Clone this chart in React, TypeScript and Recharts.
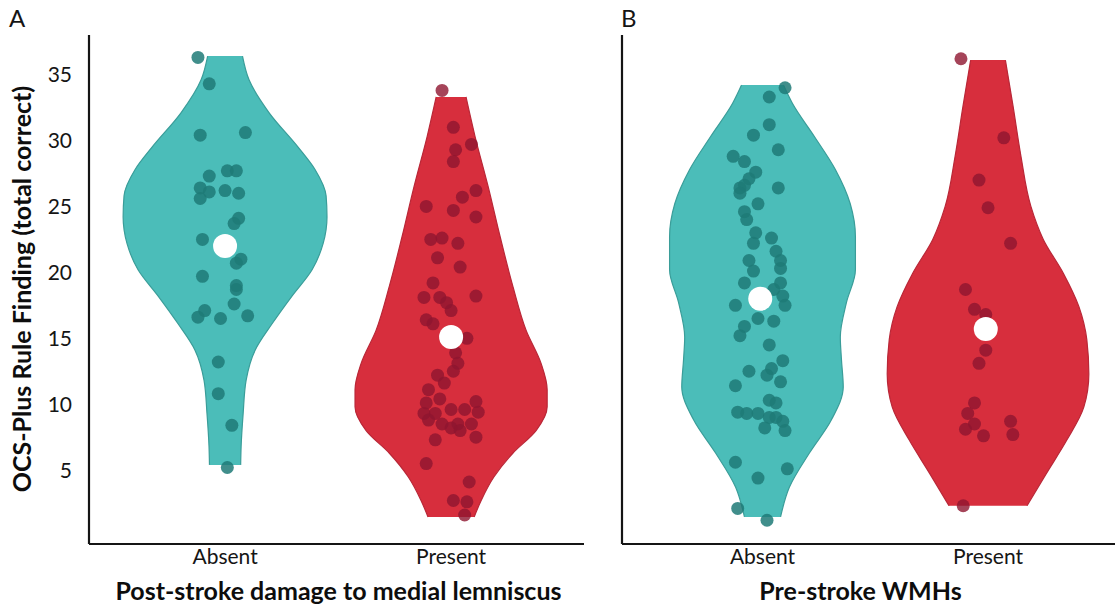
import { ComposedChart, Area, Scatter, XAxis, YAxis, Label } from "recharts";

const groups = ["Absent", "Present"];
const scoreTicks = [5, 10, 15, 20, 25, 30, 35];

// violin outlines: [score, half width in group units]
const lemAbsentOutline: [number, number][] = [
  [5.4, 0.069], [6.8, 0.071], [9.3, 0.08], [11.8, 0.093], [14.1, 0.133],
  [16.1, 0.208], [18.2, 0.296], [20.2, 0.385], [22.2, 0.434], [24.2, 0.451],
  [25.8, 0.447], [27.8, 0.398], [29.5, 0.323], [32.1, 0.195], [34.6, 0.106],
  [36.4, 0.077],
];
const lemPresentOutline: [number, number][] = [
  [1.45, 0.102], [2.7, 0.133], [4.5, 0.19], [6.3, 0.274], [8.0, 0.376],
  [9.8, 0.425], [11.1, 0.425], [13.1, 0.398], [15.6, 0.332], [18.9, 0.274],
  [22.7, 0.217], [26.5, 0.164], [30.3, 0.106], [33.3, 0.066],
];
const wmhAbsentOutline: [number, number][] = [
  [1.45, 0.08], [3.7, 0.119], [6.3, 0.208], [8.8, 0.305], [11.3, 0.358],
  [13.4, 0.35], [15.1, 0.345], [17.7, 0.372], [20.2, 0.412], [22.7, 0.412],
  [25.2, 0.389], [27.8, 0.323], [30.3, 0.23], [32.8, 0.133], [34.2, 0.093],
];
const wmhPresentOutline: [number, number][] = [
  [2.3, 0.173], [4.7, 0.257], [7.3, 0.35], [9.8, 0.425], [12.3, 0.447],
  [14.9, 0.438], [17.4, 0.403], [19.9, 0.335], [22.5, 0.245], [25.0, 0.19],
  [28.8, 0.146], [32.6, 0.111], [36.1, 0.077],
];

// individual scores: [jitter, score]
const lemAbsentScores: [number, number][] = [
  [-0.12, 36.3], [-0.07, 34.3], [-0.11, 30.4], [0.09, 30.6], [-0.07, 27.3],
  [0.01, 27.7], [0.05, 27.7], [-0.11, 26.4], [-0.07, 26.1], [0.0, 26.2],
  [0.06, 26.0], [-0.11, 25.6], [0.06, 24.1], [0.04, 23.7], [-0.1, 22.5],
  [0.07, 21.0], [0.05, 20.7], [-0.1, 19.7], [0.05, 19.0], [0.05, 18.7],
  [0.04, 17.6], [-0.09, 17.1], [-0.12, 16.6], [-0.02, 16.5], [0.1, 16.7],
  [-0.03, 13.2], [-0.03, 10.8], [0.03, 8.4], [0.01, 5.2],
];
const lemPresentScores: [number, number][] = [
  [-0.04, 33.8], [0.01, 31.0], [0.02, 29.3], [0.09, 29.7], [0.01, 28.4],
  [0.11, 26.2], [0.05, 25.7], [-0.11, 25.0], [0.01, 24.7], [0.11, 24.2],
  [-0.09, 22.5], [-0.04, 22.6], [0.03, 22.2], [-0.06, 21.1], [0.04, 20.4],
  [-0.08, 19.2], [-0.12, 18.1], [-0.05, 18.1], [0.11, 18.2], [-0.02, 17.7],
  [0.0, 17.1], [-0.11, 16.4], [-0.08, 16.1], [0.07, 15.0], [0.02, 13.9],
  [0.03, 13.1], [0.01, 12.5], [-0.06, 12.2], [-0.03, 11.6], [-0.1, 11.1],
  [-0.11, 10.1], [-0.05, 10.4], [0.11, 10.2], [-0.12, 9.3], [-0.07, 9.3],
  [0.0, 9.6], [0.06, 9.6], [0.12, 9.4], [-0.1, 8.8], [-0.04, 8.5],
  [0.03, 8.5], [0.09, 8.5], [0.0, 8.2], [0.04, 8.0], [0.11, 7.5],
  [-0.07, 7.3], [-0.11, 5.5], [0.08, 4.1], [0.01, 2.7], [0.07, 2.6],
  [0.06, 1.6],
];
const wmhAbsentScores: [number, number][] = [
  [0.1, 34.0], [0.03, 33.3], [0.03, 31.2], [-0.04, 30.4], [0.07, 29.3],
  [-0.13, 28.8], [-0.08, 28.4], [-0.03, 27.6], [-0.06, 27.1], [-0.1, 26.4],
  [-0.08, 26.6], [0.07, 26.4], [-0.1, 26.0], [-0.02, 25.2], [-0.08, 24.6],
  [-0.07, 24.0], [-0.03, 23.0], [0.04, 22.6], [-0.04, 22.2], [0.06, 21.6],
  [-0.06, 20.9], [0.08, 20.9], [-0.04, 20.1], [0.08, 20.3], [-0.08, 19.2],
  [0.08, 19.2], [0.05, 18.7], [0.09, 18.2], [-0.12, 17.5], [0.1, 17.5],
  [-0.02, 16.5], [0.05, 16.3], [-0.08, 15.9], [-0.1, 15.2], [0.03, 14.5],
  [0.09, 13.3], [-0.06, 12.5], [0.04, 12.7], [0.02, 12.2], [0.08, 11.7],
  [-0.12, 11.4], [0.03, 10.3], [0.06, 10.1], [-0.11, 9.4], [-0.07, 9.3],
  [-0.02, 9.3], [0.03, 9.0], [0.06, 9.0], [0.09, 8.7], [0.01, 8.2],
  [0.1, 8.0], [-0.12, 5.6], [0.11, 5.1], [-0.02, 4.4], [-0.11, 2.1],
  [0.02, 1.2],
];
const wmhPresentScores: [number, number][] = [
  [-0.12, 36.2], [0.07, 30.2], [-0.04, 27.0], [0.0, 24.9], [0.1, 22.2],
  [-0.1, 18.7], [-0.06, 17.2], [-0.01, 16.8], [-0.01, 14.1], [-0.04, 13.1],
  [-0.06, 10.1], [-0.09, 9.3], [-0.06, 8.5], [-0.1, 8.1], [-0.02, 7.6],
  [0.1, 8.7], [0.11, 7.7], [-0.11, 2.3],
];

// group means: [jitter, score] for Absent, Present
const lemMeans: [number, number][] = [[0.0, 22.0], [0.0, 15.1]];
const wmhMeans: [number, number][] = [[-0.01, 18.0], [-0.01, 15.7]];

const TEAL = "#4bbdb9";
const TEAL_EDGE = "#3a9d99";
const RED = "#d72e3d";
const RED_EDGE = "#b92737";
const INK = "#151515";
const FONT = "Lato, 'Open Sans', sans-serif";

const gap = [NaN, NaN];

function violinRows(absent: [number, number][], present: [number, number][]) {
  return [
    ...absent.map(([y, w]) => ({ y, absent: [1 - w, 1 + w], present: gap })),
    ...present.map(([y, w]) => ({ y, absent: gap, present: [2 - w, 2 + w] })),
  ];
}

function toPoints(scores: [number, number][], group: number) {
  return scores.map(([j, s]) => ({ x: group + j, y: s }));
}

const dot = (fill: string, r: number) => (p: any) =>
  <circle cx={p.cx} cy={p.cy} r={r} fill={fill} />;

function Panel({
  absent,
  present,
  absentScores,
  presentScores,
  means,
  xDomain,
  width,
  yWidth,
  right,
  title,
  titleShift,
  showScores,
}: {
  absent: [number, number][];
  present: [number, number][];
  absentScores: [number, number][];
  presentScores: [number, number][];
  means: [number, number][];
  xDomain: [number, number];
  width: number;
  yWidth: number;
  right: number;
  title: string;
  titleShift: number;
  showScores: boolean;
}) {
  const meanPts = means.map(([j, s], i) => ({ x: i + 1 + j, y: s }));
  return (
    <ComposedChart
      layout="vertical"
      width={width}
      height={611}
      data={violinRows(absent, present)}
      margin={{ top: 35, right, bottom: 0, left: 0 }}
    >
      <XAxis
        type="number"
        dataKey="x"
        domain={xDomain}
        allowDataOverflow
        ticks={[1, 2]}
        tickFormatter={(v) => groups[v - 1]}
        axisLine={{ stroke: INK, strokeWidth: 2.2 }}
        tickLine={false}
        tickSize={5}
        tickMargin={0}
        height={67}
        tick={{ fill: INK, fontSize: 21, fontFamily: FONT }}
      >
        <Label
          value={title}
          position="insideBottom"
          offset={11}
          dx={titleShift}
          style={{ fill: "#0d0d0d", fontSize: 25, fontWeight: 700, fontFamily: FONT }}
        />
      </XAxis>
      <YAxis
        type="number"
        dataKey="y"
        domain={[-0.6, 38]}
        allowDataOverflow
        reversed
        ticks={scoreTicks}
        width={yWidth}
        axisLine={{ stroke: INK, strokeWidth: 2.2 }}
        tickLine={false}
        tickMargin={11}
        tick={showScores ? { fill: INK, fontSize: 21, fontFamily: FONT } : false}
      >
        {showScores && (
          <Label
            content={() => (
              <text
                x={31}
                y={289}
                transform="rotate(-90 31 289)"
                textAnchor="middle"
                fill="#0d0d0d"
                fontSize={25}
                fontWeight={700}
                fontFamily={FONT}
              >
                OCS-Plus Rule Finding (total correct)
              </text>
            )}
          />
        )}
      </YAxis>
      <Area
        dataKey="absent"
        type="monotone"
        fill={TEAL}
        fillOpacity={1}
        stroke={TEAL_EDGE}
        strokeWidth={1.2}
        dot={false}
        activeDot={false}
        isAnimationActive={false}
      />
      <Area
        dataKey="present"
        type="monotone"
        fill={RED}
        fillOpacity={1}
        stroke={RED_EDGE}
        strokeWidth={1.2}
        dot={false}
        activeDot={false}
        isAnimationActive={false}
      />
      <Scatter
        data={toPoints(absentScores, 1)}
        shape={dot("rgba(30,122,119,0.85)", 6.5)}
        isAnimationActive={false}
      />
      <Scatter
        data={toPoints(presentScores, 2)}
        shape={dot("rgba(142,21,48,0.8)", 6.5)}
        isAnimationActive={false}
      />
      <Scatter data={meanPts} shape={dot("#ffffff", 12)} isAnimationActive={false} />
    </ComposedChart>
  );
}

export default function App() {
  const letter = {
    position: "absolute" as const,
    top: 6,
    fontSize: 24,
    lineHeight: 1,
    fontFamily: FONT,
    color: INK,
  };
  return (
    <div style={{ position: "absolute", left: 0, top: 0, width: 1115, height: 611, background: "#fff", overflow: "hidden" }}>
      <div style={{ ...letter, left: 9 }}>A</div>
      <div style={{ ...letter, left: 621 }}>B</div>
      <div style={{ position: "absolute", left: 0, top: 0 }}>
        <Panel
          absent={lemAbsentOutline}
          present={lemPresentOutline}
          absentScores={lemAbsentScores}
          presentScores={lemPresentScores}
          means={lemMeans}
          xDomain={[0.398, 2.588]}
          width={600}
          yWidth={89}
          right={16}
          title="Post-stroke damage to medial lemniscus"
          titleShift={2}
          showScores
        />
      </div>
      <div style={{ position: "absolute", left: 600, top: 0 }}>
        <Panel
          absent={wmhAbsentOutline}
          present={wmhPresentOutline}
          absentScores={wmhAbsentScores}
          presentScores={wmhPresentScores}
          means={wmhMeans}
          xDomain={[0.377, 2.563]}
          width={515}
          yWidth={22}
          right={0}
          title="Pre-stroke WMHs"
          titleShift={-8}
          showScores={false}
        />
      </div>
    </div>
  );
}
